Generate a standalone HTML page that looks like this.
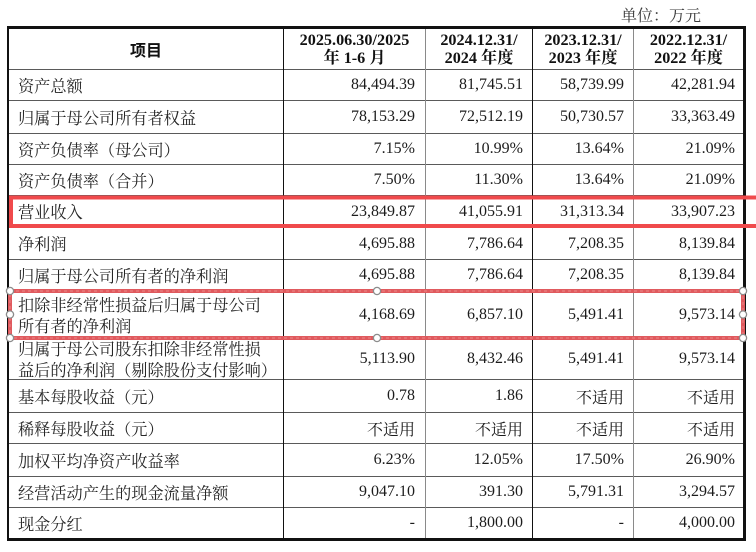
<!DOCTYPE html>
<html>
<head>
<meta charset="utf-8">
<style>
  html,body{margin:0;padding:0;background:#fff;}
  #wrap{position:relative;width:756px;height:552px;overflow:hidden;background:#fff;
        font-family:"Liberation Serif","Noto Serif CJK SC",serif;color:#1c1c1c;}
  .h{position:absolute;left:7px;width:738px;height:1px;background:#5a5a5a;}
  .v{position:absolute;top:26px;width:1px;height:513px;}
  .cell{position:absolute;display:flex;align-items:center;white-space:nowrap;font-size:16px;}
  .lab{left:18px;width:264px;font-family:"Noto Serif CJK SC","Liberation Serif",serif;font-size:16.2px;color:#262626;line-height:21px;}
  .n{justify-content:flex-end;font-family:"Liberation Serif","Noto Serif CJK SC",serif;}
  .c1{left:284px;width:131px;}
  .c2{left:426px;width:97px;}
  .c3{left:533px;width:91px;}
  .c4{left:634px;width:101px;}
  .cj{font-family:"Noto Serif CJK SC","Liberation Serif",serif;font-size:16px;}
  .hd{position:absolute;top:28px;height:41px;display:flex;flex-direction:column;align-items:center;justify-content:center;
      font-weight:bold;font-size:16.2px;line-height:18px;color:#111;white-space:nowrap;
      font-family:"Liberation Serif","Noto Serif CJK SC",serif;}
</style>
</head>
<body>
<div id="wrap">
  <div style="position:absolute;left:621px;top:5px;font-family:'Noto Serif CJK SC',serif;font-size:16px;color:#3a3a3a;line-height:20px;white-space:nowrap;">单位：万元</div>

  <div class="h" style="top:69px;"></div>
  <div class="h" style="top:100px;"></div>
  <div class="h" style="top:133px;"></div>
  <div class="h" style="top:164px;"></div>
  <div class="h" style="top:195px;"></div>
  <div class="h" style="top:227px;"></div>
  <div class="h" style="top:259px;"></div>
  <div class="h" style="top:290px;"></div>
  <div class="h" style="top:338px;"></div>
  <div class="h" style="top:379px;"></div>
  <div class="h" style="top:412px;"></div>
  <div class="h" style="top:443px;"></div>
  <div class="h" style="top:476px;"></div>
  <div class="h" style="top:507px;"></div>

  <div class="v" style="left:283px;background:#111;"></div>
  <div class="v" style="left:425px;background:#8a8a8a;"></div>
  <div class="v" style="left:532px;background:#111;"></div>
  <div class="v" style="left:633px;background:#8a8a8a;"></div>

  <div style="position:absolute;left:7px;top:26px;width:739px;height:3px;background:#111;"></div>
  <div style="position:absolute;left:7px;top:538px;width:739px;height:3px;background:#111;"></div>
  <div style="position:absolute;left:7px;top:26px;width:2px;height:515px;background:#111;"></div>
  <div style="position:absolute;left:743px;top:26px;width:3px;height:515px;background:#111;"></div>

  <div class="hd" style="left:9px;width:274px;font-family:'Noto Sans CJK SC','Noto Serif CJK SC',sans-serif;font-size:16px;">项目</div>
  <div class="hd" style="left:284px;width:141px;"><div>2025.06.30/2025</div><div>年 1-6 月</div></div>
  <div class="hd" style="left:426px;width:106px;"><div>2024.12.31/</div><div>2024 年度</div></div>
  <div class="hd" style="left:533px;width:100px;"><div>2023.12.31/</div><div>2023 年度</div></div>
  <div class="hd" style="left:634px;width:109px;"><div>2022.12.31/</div><div>2022 年度</div></div>

  <div class="cell lab" style="top:70px;height:30px;">资产总额</div>
  <div class="cell n c1" style="top:70px;height:30px;">84,494.39</div>
  <div class="cell n c2" style="top:70px;height:30px;">81,745.51</div>
  <div class="cell n c3" style="top:70px;height:30px;">58,739.99</div>
  <div class="cell n c4" style="top:70px;height:30px;">42,281.94</div>

  <div class="cell lab" style="top:101px;height:32px;">归属于母公司所有者权益</div>
  <div class="cell n c1" style="top:101px;height:32px;">78,153.29</div>
  <div class="cell n c2" style="top:101px;height:32px;">72,512.19</div>
  <div class="cell n c3" style="top:101px;height:32px;">50,730.57</div>
  <div class="cell n c4" style="top:101px;height:32px;">33,363.49</div>

  <div class="cell lab" style="top:134px;height:30px;">资产负债率（母公司）</div>
  <div class="cell n c1" style="top:134px;height:30px;">7.15%</div>
  <div class="cell n c2" style="top:134px;height:30px;">10.99%</div>
  <div class="cell n c3" style="top:134px;height:30px;">13.64%</div>
  <div class="cell n c4" style="top:134px;height:30px;">21.09%</div>

  <div class="cell lab" style="top:165px;height:30px;">资产负债率（合并）</div>
  <div class="cell n c1" style="top:165px;height:30px;">7.50%</div>
  <div class="cell n c2" style="top:165px;height:30px;">11.30%</div>
  <div class="cell n c3" style="top:165px;height:30px;">13.64%</div>
  <div class="cell n c4" style="top:165px;height:30px;">21.09%</div>

  <div class="cell lab" style="top:196px;height:31px;">营业收入</div>
  <div class="cell n c1" style="top:196px;height:31px;">23,849.87</div>
  <div class="cell n c2" style="top:196px;height:31px;">41,055.91</div>
  <div class="cell n c3" style="top:196px;height:31px;">31,313.34</div>
  <div class="cell n c4" style="top:196px;height:31px;">33,907.23</div>

  <div class="cell lab" style="top:228px;height:31px;">净利润</div>
  <div class="cell n c1" style="top:228px;height:31px;">4,695.88</div>
  <div class="cell n c2" style="top:228px;height:31px;">7,786.64</div>
  <div class="cell n c3" style="top:228px;height:31px;">7,208.35</div>
  <div class="cell n c4" style="top:228px;height:31px;">8,139.84</div>

  <div class="cell lab" style="top:260px;height:30px;">归属于母公司所有者的净利润</div>
  <div class="cell n c1" style="top:260px;height:30px;">4,695.88</div>
  <div class="cell n c2" style="top:260px;height:30px;">7,786.64</div>
  <div class="cell n c3" style="top:260px;height:30px;">7,208.35</div>
  <div class="cell n c4" style="top:260px;height:30px;">8,139.84</div>

  <div class="cell lab" style="top:292px;height:45px;">扣除非经常性损益后归属于母公司<br>所有者的净利润</div>
  <div class="cell n c1" style="top:292px;height:45px;">4,168.69</div>
  <div class="cell n c2" style="top:292px;height:45px;">6,857.10</div>
  <div class="cell n c3" style="top:292px;height:45px;">5,491.41</div>
  <div class="cell n c4" style="top:292px;height:45px;">9,573.14</div>

  <div class="cell lab" style="top:338px;height:41px;">归属于母公司股东扣除非经常性损<br>益后的净利润（剔除股份支付影响）</div>
  <div class="cell n c1" style="top:339px;height:40px;">5,113.90</div>
  <div class="cell n c2" style="top:339px;height:40px;">8,432.46</div>
  <div class="cell n c3" style="top:339px;height:40px;">5,491.41</div>
  <div class="cell n c4" style="top:339px;height:40px;">9,573.14</div>

  <div class="cell lab" style="top:380px;height:32px;">基本每股收益（元）</div>
  <div class="cell n c1" style="top:380px;height:32px;">0.78</div>
  <div class="cell n c2" style="top:380px;height:32px;">1.86</div>
  <div class="cell n c3 cj" style="top:380px;height:32px;">不适用</div>
  <div class="cell n c4 cj" style="top:380px;height:32px;">不适用</div>

  <div class="cell lab" style="top:413px;height:30px;">稀释每股收益（元）</div>
  <div class="cell n c1 cj" style="top:413px;height:30px;">不适用</div>
  <div class="cell n c2 cj" style="top:413px;height:30px;">不适用</div>
  <div class="cell n c3 cj" style="top:413px;height:30px;">不适用</div>
  <div class="cell n c4 cj" style="top:413px;height:30px;">不适用</div>

  <div class="cell lab" style="top:444px;height:32px;">加权平均净资产收益率</div>
  <div class="cell n c1" style="top:444px;height:32px;">6.23%</div>
  <div class="cell n c2" style="top:444px;height:32px;">12.05%</div>
  <div class="cell n c3" style="top:444px;height:32px;">17.50%</div>
  <div class="cell n c4" style="top:444px;height:32px;">26.90%</div>

  <div class="cell lab" style="top:477px;height:30px;">经营活动产生的现金流量净额</div>
  <div class="cell n c1" style="top:477px;height:30px;">9,047.10</div>
  <div class="cell n c2" style="top:477px;height:30px;">391.30</div>
  <div class="cell n c3" style="top:477px;height:30px;">5,791.31</div>
  <div class="cell n c4" style="top:477px;height:30px;">3,294.57</div>

  <div class="cell lab" style="top:508px;height:30px;">现金分红</div>
  <div class="cell n c1" style="top:508px;height:30px;">-</div>
  <div class="cell n c2" style="top:508px;height:30px;">1,800.00</div>
  <div class="cell n c3" style="top:508px;height:30px;">-</div>
  <div class="cell n c4" style="top:508px;height:30px;">4,000.00</div>

  <svg width="756" height="552" style="position:absolute;left:0;top:0;" xmlns="http://www.w3.org/2000/svg">
    <rect x="11" y="197.5" width="760" height="28.5" fill="none" stroke="#f04a4c" stroke-width="4"/>
    <rect x="10" y="291" width="733" height="47" fill="none" stroke="#e05a5e" stroke-width="4"/>
    <rect x="10" y="291" width="733" height="47" fill="none" stroke="#ee9a9a" stroke-width="0.7" stroke-dasharray="3 3"/>
    <g fill="#fff" stroke="#8c8c8c" stroke-width="1.3">
      <circle cx="10" cy="291" r="3.6"/>
      <circle cx="377" cy="291" r="3.6"/>
      <circle cx="743" cy="291" r="3.6"/>
      <circle cx="10" cy="314.5" r="3.6"/>
      <circle cx="743" cy="314.5" r="3.6"/>
      <circle cx="10" cy="338" r="3.6"/>
      <circle cx="377" cy="338" r="3.6"/>
      <circle cx="743" cy="338" r="3.6"/>
    </g>
  </svg>
</div>
</body>
</html>
